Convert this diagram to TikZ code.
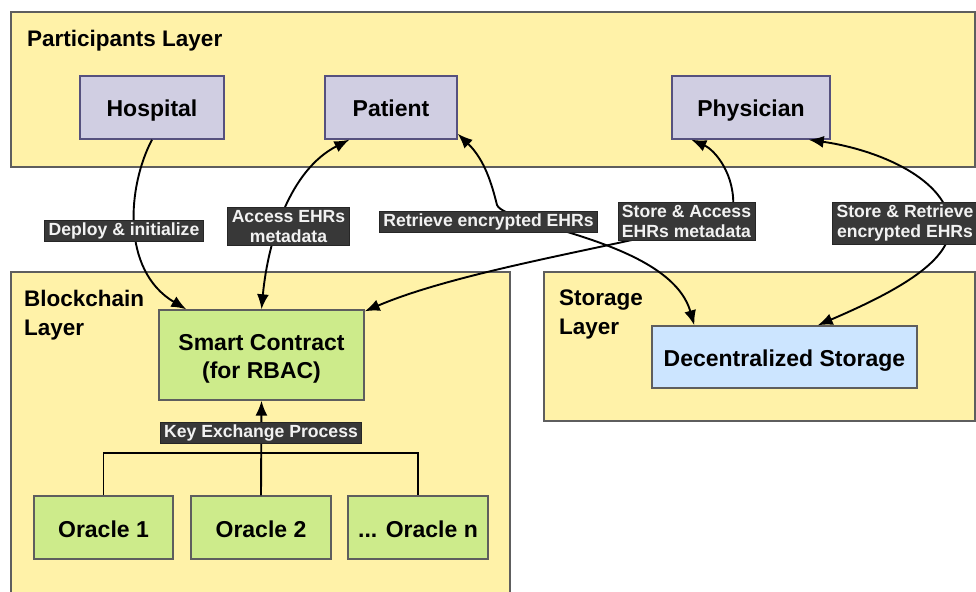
\documentclass[tikz,border=0pt]{standalone}
\usepackage{fontspec}
\setmainfont{Liberation Sans}
\usetikzlibrary{arrows.meta}

\definecolor{layerfill}{HTML}{FFF2A8}
\definecolor{layerline}{HTML}{5E5E5E}
\definecolor{rolefill}{HTML}{D0CEE2}
\definecolor{roleline}{HTML}{56517E}
\definecolor{chainfill}{HTML}{CDEB8B}
\definecolor{storefill}{HTML}{CCE5FF}
\definecolor{tagfill}{HTML}{383838}
\definecolor{tagtext}{HTML}{F2F2F2}

\tikzset{
  layer/.style={draw=layerline, fill=layerfill, line width=1.4pt},
  layertitle/.style={anchor=north west, inner sep=0pt, align=left,
    font=\fontsize{22.5}{29}\selectfont\bfseries},
  box/.style={draw=layerline, line width=1.4pt, inner sep=0pt, align=center,
    font=\fontsize{23}{28}\selectfont\bfseries},
  oneline/.style={text height=19pt, text depth=0pt},
  rolebox/.style={box, oneline, draw=roleline, fill=rolefill, minimum height=63pt},
  chainbox/.style={box, fill=chainfill},
  storebox/.style={box, oneline, fill=storefill},
  tag/.style={draw=black!85, fill=tagfill, text=tagtext, line width=0.8pt,
    inner xsep=4pt, inner ysep=2.5pt, align=center,
    font=\fontsize{17.6}{20.5}\selectfont\bfseries},
  link/.style={line width=1.9pt, black},
  onearrow/.style={link, -{Latex[length=15pt,width=12pt]}},
  twoarrow/.style={link, {Latex[length=15pt,width=12pt]}-{Latex[length=15pt,width=12pt]}}
}

\begin{document}
\begin{tikzpicture}[x=1pt,y=-1pt]
  \useasboundingbox (0,0) rectangle (976,591);

  % layers
  \fill[white] (0,0) rectangle (976,591);
  \draw[layer] (11,12) rectangle (975,167);
  \draw[layer] (11,272) rectangle (510,610);
  \draw[layer] (544,272) rectangle (975,421);

  \node[layertitle] (tpart) at (27,30) {Participants Layer};
  \node[layertitle] (tchain) at (24,290) {Blockchain\\Layer};
  \node[layertitle] (tstore) at (559,290) {Storage\\Layer};

  % participants
  \node[rolebox, minimum width=144pt] (hosp) at (152,107.5) {Hospital};
  \node[rolebox, minimum width=132pt] (pat) at (391,107.5) {Patient};
  \node[rolebox, minimum width=158pt] (phys) at (751,107.5) {Physician};

  % blockchain layer (strut on the first line lowers the two-line text a little)
  \node[chainbox, minimum width=205pt, minimum height=90pt] (sc) at (261.5,355)
    {\rule{0pt}{23pt}Smart Contract\\(for RBAC)};
  \node[chainbox, oneline, minimum width=139pt, minimum height=63pt] (or1) at (103.5,527.5) {Oracle 1};
  \node[chainbox, oneline, minimum width=140pt, minimum height=63pt] (or2) at (261,527.5) {Oracle 2};
  \node[chainbox, oneline, minimum width=140pt, minimum height=63pt] (orn) at (418,527.5) {... Oracle n};

  % storage layer
  \node[storebox, minimum width=265pt, minimum height=62pt] (ds) at (784.5,357)
    {Decentralized Storage};

  % oracles feeding the contract
  \coordinate (busL) at (103.5,453);
  \coordinate (busR) at (418,453);
  \draw[link] (or1.north) -- (busL) -- (busR) -- (orn.north);
  \draw[onearrow] (or2.north) -- (sc.south);

  % hospital deploys the contract
  \draw[onearrow] (hosp.south) .. controls (128,185) and (120,270) ..
    ([xshift=28pt]sc.north west);

  % patient reads metadata
  \draw[twoarrow] (sc.north) .. controls (268,240) and (290,170) ..
    ([xshift=25pt]pat.south west);

  % patient retrieves encrypted records
  \draw[twoarrow] ([yshift=6pt]pat.south east) .. controls (485,160) and (492,185) ..
    (497,205) .. controls (505,225) and (670,240) .. ([xshift=43pt]ds.north west);

  % physician stores / reads metadata
  \draw[twoarrow] ([yshift=-2pt]sc.north east) .. controls (480,262) and (700,235) ..
    (733,210) .. controls (736,175) and (715,150) .. ([xshift=20pt]phys.south west);

  % physician stores / retrieves encrypted records
  \draw[twoarrow] ([xshift=-100pt]ds.north east) .. controls (900,290) and (952,260) ..
    (950,225) .. controls (948,180) and (880,150) .. ([xshift=-22pt]phys.south east);

  % connector labels
  \node[tag] (ldeploy) at (124,231) {Deploy \& initialize};
  \node[tag] (laccess) at (288.5,226.5) {Access EHRs\\metadata};
  \node[tag] (lretr) at (488.5,222) {Retrieve encrypted EHRs};
  \node[tag] (lstacc) at (686.5,221.5) {Store \& Access\\EHRs metadata};
  \node[tag] (lstret) at (905,223) {Store \& Retrieve\\encrypted EHRs};
  \node[tag] (lkey) at (261,433) {Key Exchange Process};
\end{tikzpicture}
\end{document}
